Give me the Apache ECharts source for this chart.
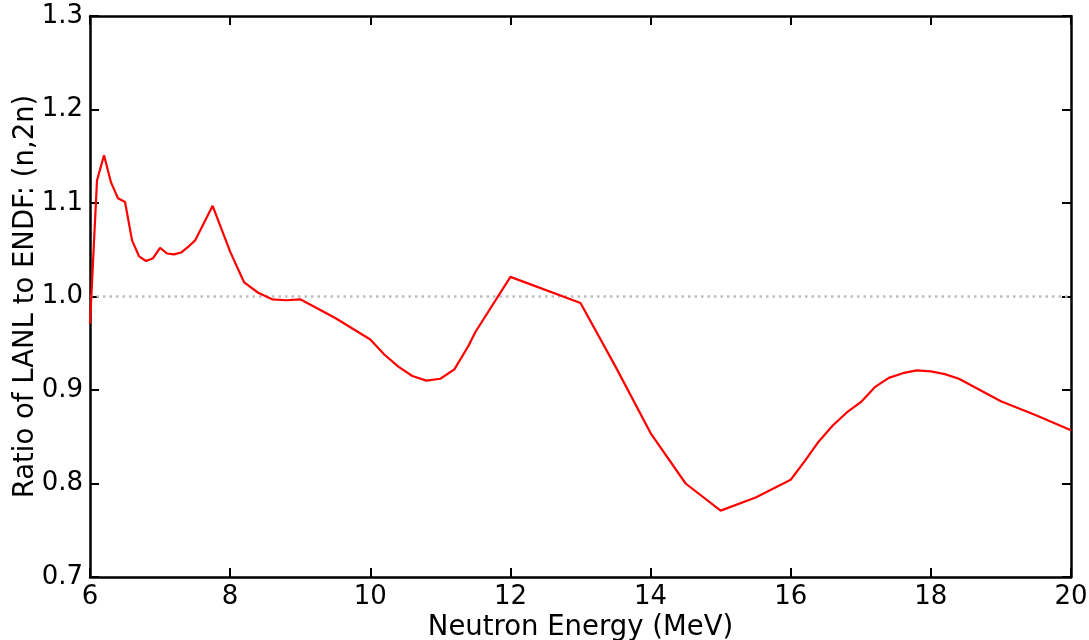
<!DOCTYPE html>
<html>
<head>
<meta charset="utf-8">
<title>Ratio of LANL to ENDF (n,2n)</title>
<script src="https://cdn.jsdelivr.net/npm/echarts@6/dist/echarts.min.js"></script>
<style>
  html, body { margin: 0; padding: 0; background: #fff; }
  #chartView { width: 1089px; height: 640px; }
</style>
</head>
<body>
<div id="chartView"></div>
<script>
// neutron energy (MeV) and ratio LANL / ENDF
var energy = [6.0, 6.1, 6.2, 6.3, 6.4, 6.5, 6.6, 6.7, 6.8, 6.9, 7.0, 7.1, 7.2, 7.3, 7.4, 7.5, 7.75,
    8.0, 8.2, 8.4, 8.6, 8.8, 9.0, 9.5, 10.0, 10.2, 10.4, 10.6, 10.8, 11.0, 11.2, 11.4, 11.5,
    12.0, 13.0, 13.5, 14.0, 14.5, 15.0, 15.5, 16.0, 16.2, 16.4, 16.6, 16.8, 17.0, 17.2, 17.4,
    17.6, 17.8, 18.0, 18.2, 18.4, 18.6, 18.8, 19.0, 19.5, 20.0];
var ratio = [0.971, 1.124, 1.151, 1.122, 1.105, 1.101, 1.060, 1.043, 1.038, 1.041, 1.052, 1.046,
    1.045, 1.047, 1.053, 1.060, 1.097, 1.048, 1.015, 1.004, 0.997, 0.996, 0.997, 0.977, 0.954,
    0.938, 0.925, 0.915, 0.910, 0.912, 0.922, 0.947, 0.962, 1.021, 0.993, 0.925, 0.854, 0.800,
    0.771, 0.785, 0.804, 0.824, 0.845, 0.862, 0.876, 0.887, 0.903, 0.913, 0.918, 0.921, 0.920,
    0.917, 0.912, 0.904, 0.896, 0.888, 0.873, 0.857];
var refLine = [[6, 1.0], [20, 1.0]];

var font = 'DejaVu Sans';
var lineData = [];
for (var i = 0; i < energy.length; i++) {
    lineData.push([energy[i], ratio[i]]);
}

var myChart = echarts.init(document.getElementById('chartView'));

var axisLine = { show: true, onZero: false, lineStyle: { color: '#000', width: 2.5 } };
var axisTick = { show: true, inside: true, length: 9, lineStyle: { color: '#000', width: 2 } };

var options = {
    animation: false,
    grid: { left: 90, right: 18, top: 16, bottom: 63, outerBoundsMode: 'none' },
    xAxis: [
        {
            type: 'value', min: 6, max: 20, interval: 2,
            name: 'Neutron Energy (MeV)', nameLocation: 'middle', nameGap: 37, nameMoveOverlap: false,
            nameTextStyle: { fontFamily: font, fontSize: 27.5, color: '#000' },
            axisLine: axisLine, axisTick: axisTick,
            axisLabel: { margin: 7, fontFamily: font, fontSize: 26, color: '#000' },
            splitLine: { show: false }
        },
        {
            type: 'value', min: 6, max: 20, interval: 2, position: 'top',
            axisLine: axisLine, axisTick: axisTick,
            axisLabel: { show: false }, splitLine: { show: false }
        }
    ],
    yAxis: [
        {
            type: 'value', min: 0.7, max: 1.3, interval: 0.1,
            name: 'Ratio of LANL to ENDF: (n,2n)', nameLocation: 'middle', nameGap: 50, nameMoveOverlap: false,
            nameTextStyle: { fontFamily: font, fontSize: 27.5, color: '#000' },
            axisLine: axisLine, axisTick: axisTick,
            axisLabel: {
                margin: 7, fontFamily: font, fontSize: 26, color: '#000',
                formatter: function (v) { return v.toFixed(1); }
            },
            splitLine: { show: false }
        },
        {
            type: 'value', min: 0.7, max: 1.3, interval: 0.1, position: 'right',
            axisLine: axisLine, axisTick: axisTick,
            axisLabel: { show: false }, splitLine: { show: false }
        }
    ],
    series: [
        {
            name: 'unity',
            type: 'line',
            data: refLine,
            symbol: 'none',
            lineStyle: { color: '#bdbdbd', width: 2.5, type: [2.5, 4] },
            z: 1
        },
        {
            name: 'ratio',
            type: 'line',
            data: lineData,
            symbol: 'none',
            lineStyle: { color: '#ff0000', width: 2.2 },
            z: 2
        }
    ]
};
myChart.setOption(options);
</script>
</body>
</html>
